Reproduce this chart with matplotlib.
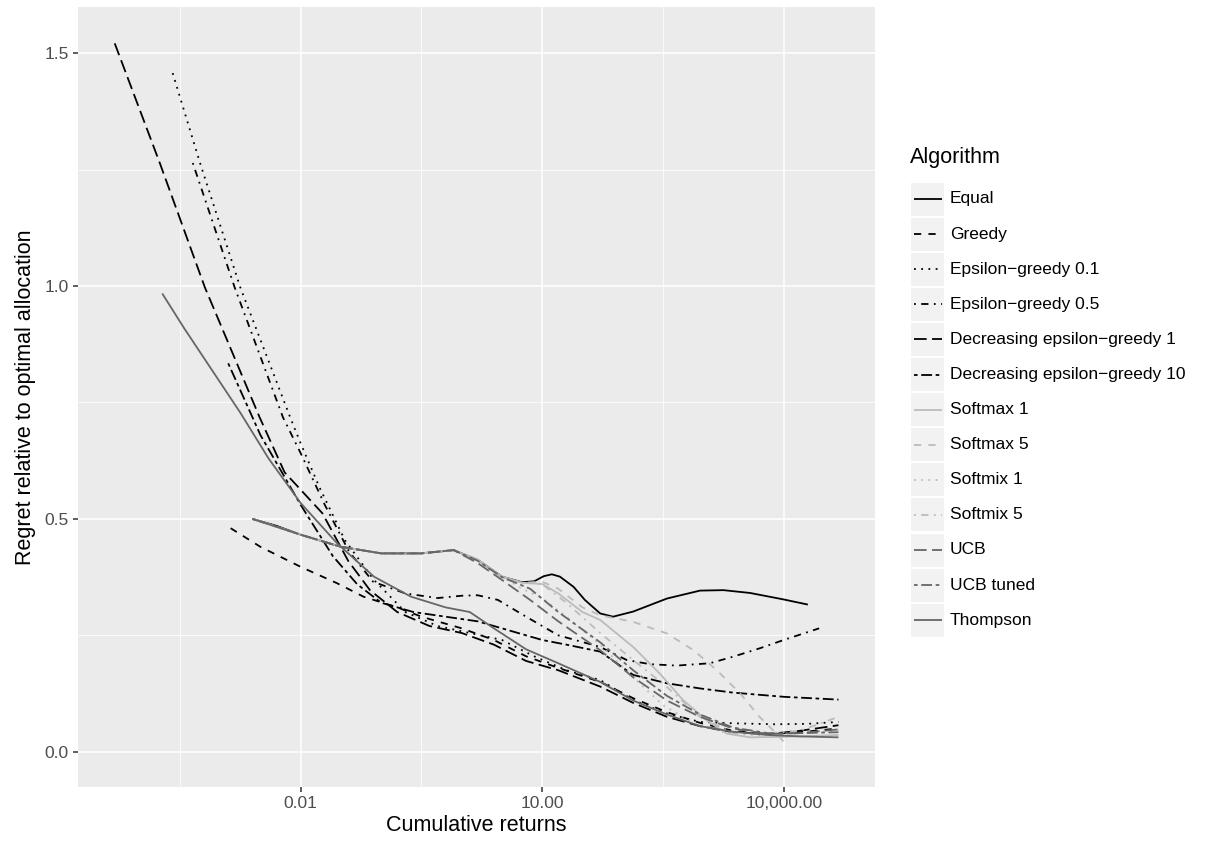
import numpy as np
import matplotlib
matplotlib.use("Agg")
import matplotlib.pyplot as plt
from matplotlib.lines import Line2D
from matplotlib.patches import Rectangle
from matplotlib.ticker import FixedLocator, NullFormatter

plt.rcParams['font.family'] = ['Liberation Sans', 'DejaVu Sans']

# log10 of cumulative returns and regret
algorithms = ['Equal', 'Greedy', 'Epsilon\u2212greedy 0.1', 'Epsilon\u2212greedy 0.5',
              'Decreasing epsilon\u2212greedy 1', 'Decreasing epsilon\u2212greedy 10',
              'Softmax 1', 'Softmax 5', 'Softmix 1', 'Softmix 5',
              'UCB', 'UCB tuned', 'Thompson']

equal_x = [-2.6, -2.3, -2.0, -1.5, -1.0, -0.5, -0.1, 0.2, 0.5, 0.75, 0.9, 1.02, 1.12, 1.22, 1.39, 1.53, 1.72, 1.88, 2.13, 2.55, 2.96, 3.25, 3.58, 4.0, 4.3]
equal_y = [0.50, 0.485, 0.466, 0.44, 0.426, 0.426, 0.433, 0.412, 0.376, 0.364, 0.366, 0.377, 0.381, 0.376, 0.354, 0.326, 0.297, 0.290, 0.301, 0.329, 0.346, 0.347, 0.341, 0.327, 0.316]

greedy_x = [-2.87, -2.5, -2.0, -1.55, -1.22, -0.8, -0.5, 0.0, 0.4, 0.8, 1.2, 1.72, 2.13, 2.55, 2.96, 3.37, 3.8, 4.2, 4.68]
greedy_y = [0.48, 0.44, 0.397, 0.362, 0.333, 0.31, 0.29, 0.265, 0.24, 0.205, 0.18, 0.15, 0.115, 0.085, 0.062, 0.045, 0.038, 0.042, 0.05]

eps01_x = [-3.59, -3.25, -2.75, -2.13, -2.0, -1.77, -1.45, -1.09, -0.7, -0.3, 0.1, 0.5, 0.9, 1.3, 1.72, 2.13, 2.55, 2.96, 3.4, 3.9, 4.3, 4.68]
eps01_y = [1.457, 1.264, 0.997, 0.718, 0.662, 0.569, 0.454, 0.369, 0.30, 0.27, 0.255, 0.24, 0.205, 0.175, 0.154, 0.111, 0.082, 0.064, 0.061, 0.059, 0.06, 0.064]

eps05_x = [-3.34, -2.82, -2.22, -2.0, -1.7, -1.4, -1.1, -0.7, -0.3, 0.0, 0.2, 0.45, 0.8, 1.2, 1.72, 2.05, 2.34, 2.67, 3.08, 3.37, 3.70, 4.0, 4.44]
eps05_y = [1.264, 0.997, 0.718, 0.641, 0.53, 0.43, 0.365, 0.34, 0.33, 0.335, 0.336, 0.326, 0.29, 0.25, 0.225, 0.197, 0.188, 0.185, 0.19, 0.204, 0.222, 0.24, 0.265]

dec1_x = [-4.31, -3.75, -3.19, -2.51, -2.2, -1.73, -1.41, -1.14, -0.8, -0.4, 0.0, 0.4, 0.8, 1.2, 1.72, 2.13, 2.55, 2.96, 3.37, 3.8, 4.2, 4.68]
dec1_y = [1.521, 1.264, 0.997, 0.718, 0.6, 0.512, 0.41, 0.347, 0.30, 0.27, 0.255, 0.23, 0.195, 0.175, 0.14, 0.105, 0.075, 0.055, 0.042, 0.038, 0.045, 0.057]

dec10_x = [-2.9, -2.5, -2.0, -1.6, -1.3, -1.0, -0.6, -0.2, 0.2, 0.6, 1.0, 1.3, 1.72, 2.13, 2.55, 2.96, 3.37, 4.0, 4.68]
dec10_y = [0.834, 0.68, 0.53, 0.42, 0.36, 0.32, 0.30, 0.29, 0.28, 0.26, 0.24, 0.23, 0.215, 0.165, 0.147, 0.136, 0.127, 0.118, 0.112]

softmax1_x = [-2.6, -2.0, -1.5, -1.0, -0.5, -0.1, 0.2, 0.5, 0.75, 1.0, 1.2, 1.5, 1.72, 2.13, 2.46, 2.75, 3.04, 3.29, 3.58, 4.0, 4.68]
softmax1_y = [0.50, 0.466, 0.44, 0.426, 0.426, 0.433, 0.412, 0.376, 0.363, 0.36, 0.34, 0.30, 0.283, 0.225, 0.168, 0.111, 0.068, 0.039, 0.031, 0.032, 0.036]

softmax5_x = [-2.6, -2.0, -1.5, -1.0, -0.5, -0.1, 0.2, 0.5, 0.75, 1.0, 1.2, 1.5, 1.72, 2.13, 2.55, 2.88, 3.17, 3.46, 3.7, 3.91, 4.04]
softmax5_y = [0.50, 0.466, 0.44, 0.426, 0.426, 0.433, 0.412, 0.376, 0.363, 0.365, 0.35, 0.31, 0.293, 0.279, 0.254, 0.218, 0.175, 0.125, 0.075, 0.039, 0.014]

softmix1_x = [-2.6, -2.0, -1.5, -1.0, -0.5, -0.1, 0.2, 0.5, 0.75, 1.0, 1.3, 1.72, 2.13, 2.5, 2.9, 3.3, 3.7, 4.2, 4.68]
softmix1_y = [0.50, 0.466, 0.44, 0.426, 0.426, 0.433, 0.412, 0.376, 0.35, 0.33, 0.29, 0.23, 0.16, 0.10, 0.06, 0.04, 0.035, 0.04, 0.046]

softmix5_x = [-2.6, -2.0, -1.5, -1.0, -0.5, -0.1, 0.2, 0.5, 0.75, 1.0, 1.3, 1.72, 2.13, 2.55, 2.96, 3.37, 3.7, 4.2, 4.68]
softmix5_y = [0.50, 0.466, 0.44, 0.426, 0.426, 0.433, 0.412, 0.376, 0.363, 0.36, 0.32, 0.255, 0.197, 0.139, 0.075, 0.04, 0.038, 0.045, 0.075]

ucb_x = [-2.6, -2.0, -1.5, -1.0, -0.5, -0.1, 0.2, 0.5, 0.85, 1.2, 1.72, 2.13, 2.55, 2.96, 3.37, 3.8, 4.2, 4.68]
ucb_y = [0.50, 0.466, 0.44, 0.426, 0.426, 0.433, 0.405, 0.369, 0.326, 0.28, 0.218, 0.16, 0.11, 0.075, 0.05, 0.038, 0.04, 0.048]

ucbt_x = [-2.6, -2.0, -1.5, -1.0, -0.5, -0.1, 0.2, 0.5, 0.85, 1.2, 1.72, 2.13, 2.55, 2.96, 3.37, 3.8, 4.2, 4.68]
ucbt_y = [0.50, 0.466, 0.44, 0.426, 0.426, 0.433, 0.41, 0.375, 0.35, 0.30, 0.235, 0.175, 0.12, 0.08, 0.052, 0.04, 0.04, 0.042]

thompson_x = [-3.72, -3.45, -3.2, -2.95, -2.75, -2.4, -2.0, -1.55, -1.09, -0.63, -0.2, 0.1, 0.4, 0.8, 1.2, 1.72, 2.13, 2.55, 2.96, 3.37, 3.8, 4.2, 4.68]
thompson_y = [0.984, 0.91, 0.845, 0.78, 0.728, 0.63, 0.534, 0.448, 0.376, 0.333, 0.31, 0.30, 0.265, 0.22, 0.19, 0.15, 0.11, 0.08, 0.055, 0.043, 0.036, 0.033, 0.031]

series = [(equal_x, equal_y), (greedy_x, greedy_y), (eps01_x, eps01_y), (eps05_x, eps05_y),
          (dec1_x, dec1_y), (dec10_x, dec10_y), (softmax1_x, softmax1_y), (softmax5_x, softmax5_y),
          (softmix1_x, softmix1_y), (softmix5_x, softmix5_y), (ucb_x, ucb_y), (ucbt_x, ucbt_y),
          (thompson_x, thompson_y)]

# ggplot linetypes: solid, dashed, dotted, dotdash, longdash, twodash
lt = {'solid': '-', 'dashed': (0, (4, 4)), 'dotted': (0, (1, 3)),
      'dotdash': (0, (1, 3, 4, 3)), 'longdash': (0, (7, 3)), 'twodash': (0, (2, 2, 6, 2))}
styles = ['solid', 'dashed', 'dotted', 'dotdash', 'longdash', 'twodash',
          'solid', 'dashed', 'dotted', 'dotdash', 'longdash', 'twodash', 'solid']
colors = ['black'] * 6 + ['#BBBBBB'] * 4 + ['#666666'] * 3

W, H = 1205, 841
fig = plt.figure(figsize=(W / 100, H / 100), dpi=100)
ax = fig.add_axes([78 / W, 1 - 786.7 / H, (875 - 78) / W, (786.7 - 7) / H])
ax.set_facecolor('#EBEBEB')
for s in ax.spines.values():
    s.set_visible(False)

lw = 1.3
for (xs, ys), st, c in zip(series, styles, colors):
    ax.plot(10 ** np.array(xs), ys, color=c, linestyle=lt[st], lw=lw,
            dash_capstyle='butt', solid_capstyle='butt', solid_joinstyle='round')

ax.set_xscale('log')
ax.set_xlim(10 ** -4.766, 10 ** 5.134)
ax.set_ylim(-0.075, 1.599)

ax.xaxis.set_major_locator(FixedLocator([0.01, 10, 10000]))
ax.set_xticklabels(['0.01', '10.00', '10,000.00'])
ax.xaxis.set_minor_locator(FixedLocator([10 ** -3.5, 10 ** -0.5, 10 ** 2.5]))
ax.xaxis.set_minor_formatter(NullFormatter())
ax.set_yticks([0, 0.5, 1.0, 1.5])
ax.set_yticklabels(['0.0', '0.5', '1.0', '1.5'])
ax.set_yticks([0.25, 0.75, 1.25], minor=True)

ax.grid(True, which='major', color='white', lw=1.1)
ax.grid(True, which='minor', color='white', lw=0.55)
ax.set_axisbelow(True)
ax.tick_params(which='major', length=3.5, width=1.1, color='#333333',
               labelcolor='#4D4D4D', labelsize=12.5, pad=3)
ax.tick_params(which='minor', length=0)

ax.set_xlabel('Cumulative returns', fontsize=15.5, labelpad=3)
ax.set_ylabel('Regret relative to optimal allocation', fontsize=15.5, labelpad=6)

# legend drawn by hand to get ggplot-style key boxes
fig.text(910 / W, 1 - 157 / H, 'Algorithm', fontsize=15.5, va='center', ha='left')
for i, (name, st, c) in enumerate(zip(algorithms, styles, colors)):
    yc = 199 + i * 35.1
    fig.patches.append(Rectangle((911 / W, 1 - (yc + 16.5) / H), 33 / W, 33 / H,
                                 transform=fig.transFigure, facecolor='#F2F2F2',
                                 edgecolor='none'))
    fig.lines.append(Line2D([913.5 / W, 941.5 / W], [1 - yc / H, 1 - yc / H],
                            transform=fig.transFigure, color=c, linestyle=lt[st],
                            lw=lw, dash_capstyle='butt', solid_capstyle='butt'))
    fig.text(950 / W, 1 - yc / H, name, fontsize=12.5, va='center', ha='left')

fig.savefig('out.png', dpi=100)
